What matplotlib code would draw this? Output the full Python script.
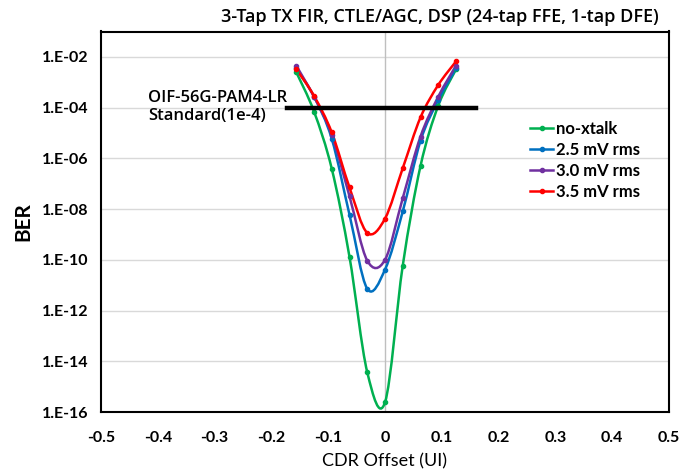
import numpy as np
import matplotlib
matplotlib.use("Agg")
import matplotlib.pyplot as plt
from matplotlib.path import Path
from matplotlib.patches import PathPatch
from matplotlib.lines import Line2D
from matplotlib.ticker import FixedLocator, FuncFormatter

# ---- data ----
cdr_offset = [-5/32, -4/32, -3/32, -2/32, -1/32, 0.0, 1/32, 2/32, 3/32, 4/32]
ber_no_xtalk = [2.5e-3, 7.0e-5, 3.9e-7, 1.3e-10, 3.7e-15, 2.4e-16, 5.9e-11, 5.0e-7, 1.2e-4, 3.2e-3]
ber_2p5mV = [3.5e-3, 2.7e-4, 5.9e-6, 6.0e-9, 7.2e-12, 4.1e-11, 8.1e-9, 4.9e-6, 2.0e-4, 3.5e-3]
ber_3p0mV = [4.5e-3, 2.7e-4, 8.5e-6, 3.2e-8, 9.3e-11, 1.0e-10, 2.7e-8, 7.2e-6, 2.7e-4, 4.5e-3]
ber_3p5mV = [3.3e-3, 2.9e-4, 1.05e-5, 7.1e-8, 1.15e-9, 4.2e-9, 4.1e-7, 4.1e-5, 7.8e-4, 6.6e-3]
series_labels = ["no-xtalk", "2.5 mV rms", "3.0 mV rms", "3.5 mV rms"]
series_colors = ["#00b050", "#0070c0", "#7030a0", "#ff0000"]
std_x = [-0.172, 0.16]
std_ber = [1e-4, 1e-4]
x_ticks = [-0.5, -0.4, -0.3, -0.2, -0.1, 0.0, 0.1, 0.2, 0.3, 0.4, 0.5]
y_ticks = [1e-16, 1e-14, 1e-12, 1e-10, 1e-8, 1e-6, 1e-4, 1e-2]

plt.rcParams['font.family'] = ['Lato', 'DejaVu Sans']

fig = plt.figure(figsize=(6.97, 4.72), dpi=100)
ax = fig.add_axes([101/697, 1 - 412/472, (669 - 101)/697, (412 - 31.5)/472])
ax.set_yscale('log')
ax.set_xlim(-0.5, 0.5)
ax.set_ylim(1e-16, 1e-1)


def smooth_path(xs, ys):
    """Excel-like smoothed line as cubic Bezier segments (in x / log10(y) space)."""
    x = np.asarray(xs, float)
    ly = np.log10(np.asarray(ys, float))
    P = np.column_stack([x, ly])
    n = len(P)
    verts = [P[0]]
    codes = [Path.MOVETO]
    for i in range(n - 1):
        p0 = P[i - 1] if i > 0 else P[i]
        p1 = P[i]
        p2 = P[i + 1]
        p3 = P[i + 2] if i + 2 < n else P[i + 1]
        c1 = p1 + (p2 - p0) / 6.0
        c2 = p2 - (p3 - p1) / 6.0
        verts += [c1, c2, p2]
        codes += [Path.CURVE4] * 3
    V = np.array(verts)
    V[:, 1] = 10 ** V[:, 1]
    return Path(V, codes)


all_series = [ber_no_xtalk, ber_2p5mV, ber_3p0mV, ber_3p5mV]
handles = []
for ys, lab, col in zip(all_series, series_labels, series_colors):
    patch = PathPatch(smooth_path(cdr_offset, ys), facecolor='none', edgecolor=col,
                      lw=1.8, zorder=3)
    ax.add_patch(patch)
    ax.plot(cdr_offset, ys, ls='none', marker='o', ms=3, color=col, zorder=4)
    handles.append(Line2D([], [], color=col, lw=1.8, marker='o', ms=3))

# standard limit line
ax.plot(std_x, std_ber, color='black', lw=3.2, zorder=5)
ax.text(-0.417, 1.05e-4, "OIF-56G-PAM4-LR\nStandard(1e-4)", fontsize=12,
        ha='left', va='center', linespacing=1.1, color='black',
        family=['Open Sans', 'DejaVu Sans'], fontweight='semibold')

# grid & zero line
for yt in y_ticks:
    ax.axhline(yt, color='#d9d9d9', lw=1.0, zorder=0)
ax.axvline(0, color='#bfbfbf', lw=1.0, zorder=1)

ax.xaxis.set_major_locator(FixedLocator(x_ticks))
ax.yaxis.set_major_locator(FixedLocator(y_ticks))
ax.yaxis.set_minor_locator(FixedLocator([]))
ax.xaxis.set_major_formatter(FuncFormatter(lambda v, p: "0" if abs(v) < 1e-9 else f"{v:.1f}"))
ax.yaxis.set_major_formatter(FuncFormatter(lambda v, p: "1.E-%02d" % int(round(-np.log10(v)))))
ax.tick_params(axis='y', length=0, labelsize=11.5, pad=9)
ax.tick_params(axis='x', length=0, labelsize=11.5, pad=14)
for lbl in ax.get_xticklabels() + ax.get_yticklabels():
    lbl.set_fontweight('bold')

for s in ax.spines.values():
    s.set_linewidth(1.5)
    s.set_color('black')

ax.set_xlabel("CDR Offset (UI)", fontsize=13, labelpad=6)
ax.set_ylabel("BER", fontsize=15, fontweight='bold', labelpad=6)
ax.set_title("3-Tap TX FIR, CTLE/AGC, DSP (24-tap FFE, 1-tap DFE)", fontsize=13,
             pad=7, x=0.597, family=['Open Sans', 'DejaVu Sans'], fontweight='semibold')

leg = ax.legend(handles, series_labels, loc='upper left', bbox_to_anchor=(0.744, 0.783),
                frameon=False, fontsize=12, handlelength=1.35, handletextpad=0.2,
                labelspacing=0.3, borderaxespad=0)
for t in leg.get_texts():
    t.set_fontweight('bold')

fig.savefig("out.png", dpi=100)
